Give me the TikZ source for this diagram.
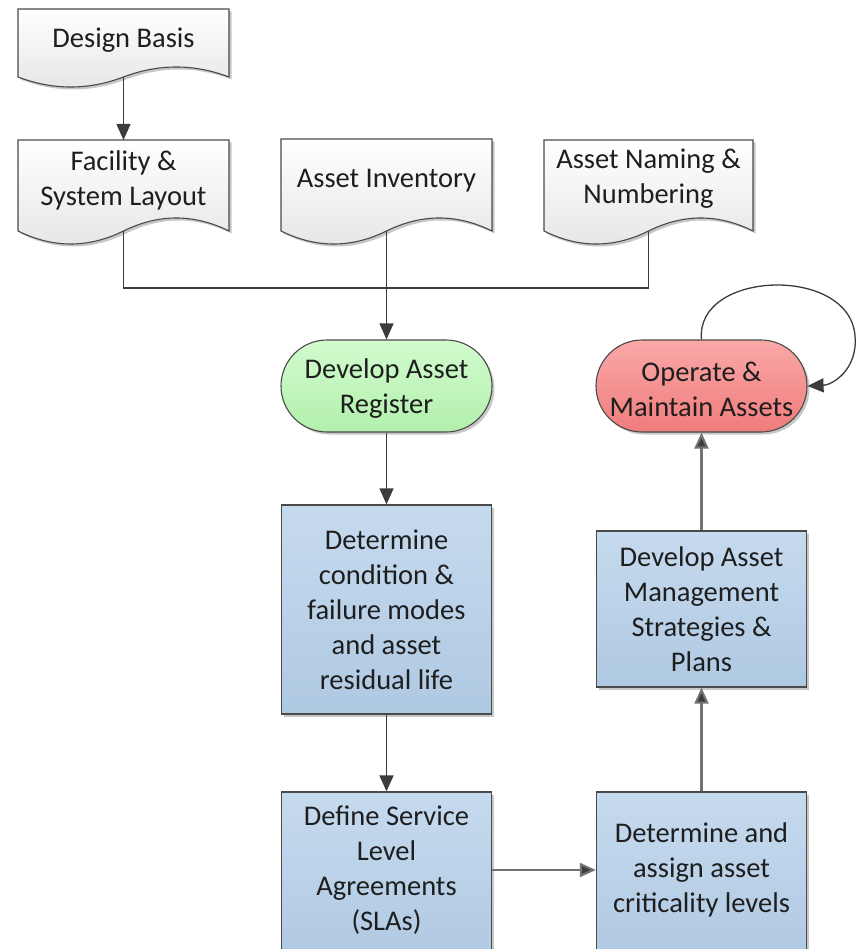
\documentclass[tikz,border=0pt]{standalone}
\usepackage{fontspec}
\setmainfont{Carlito}
\usetikzlibrary{arrows.meta,shapes.misc,shadows,calc}

\definecolor{edge}{HTML}{4A4A4A}
\definecolor{textc}{HTML}{1E1E1E}
\definecolor{docbot}{HTML}{E6E6E6}
\definecolor{blueTop}{HTML}{C6DAEE}
\definecolor{blueBot}{HTML}{AFC9E2}
\definecolor{greenTop}{HTML}{D2FBCE}
\definecolor{greenBot}{HTML}{B2F0AC}
\definecolor{redTop}{HTML}{FAA8A8}
\definecolor{redBot}{HTML}{F07C7C}
\definecolor{darkline}{HTML}{3C3C3C}
\definecolor{greyline}{HTML}{727272}

% document symbol: flat top, wavy bottom
% #1 left, #2 top, #3 right, #4 base line of the wave, #5 wave amplitude
\newcommand\docshape[5]{%
  \pgfmathsetmacro\docW{(#3-#1)/6}%
  \pgfmathsetmacro\docM{(#1+#3)/2}%
  \pgfmathsetmacro\docA{4*#5/3}%
  \path[docsym] (#1,#2) -- (#3,#2) -- (#3,#4)
    .. controls ({#3-\docW},{#4-\docA}) and ({\docM+\docW},{#4-\docA}) .. (\docM,#4)
    .. controls ({\docM-\docW},{#4+\docA}) and ({#1+\docW},{#4+\docA}) .. (#1,#4) -- cycle;%
}

\tikzset{
  every node/.style={font=\fontsize{28.5}{35}\selectfont, text=textc},
  softshadow/.style={drop shadow={shadow xshift=2.5pt, shadow yshift=-2.5pt, opacity=0.22, fill=black}},
  docsym/.style={draw=edge, line width=1.1pt, top color=white, bottom color=docbot, softshadow},
  docanchor/.style={draw=none, inner sep=0pt, outer sep=0pt, minimum width=#1},
  doctext/.style={align=center, inner sep=0pt},
  procbox/.style={rectangle, draw=edge, line width=1.3pt, top color=blueTop, bottom color=blueBot,
    minimum width=210pt, align=center, inner sep=0pt, softshadow},
  terminal/.style={rounded rectangle, draw=edge, line width=1.1pt, minimum width=211pt,
    minimum height=92pt, align=center, inner sep=0pt, softshadow},
  plainline/.style={draw=darkline, line width=1.3pt},
  thinarrow/.style={plainline, -{Triangle[length=16pt,width=14pt]}},
  flowarrow/.style={draw=darkline, line width=1.9pt, -{Triangle[length=16pt,width=14pt]}},
  greyarrow/.style={draw=greyline, line width=2.1pt, -{Triangle[length=16pt,width=14pt,fill=darkline]}},
}

\begin{document}
\begin{tikzpicture}[x=1pt,y=-1pt]
\useasboundingbox (0,0) rectangle (857,949);

% input documents
\docshape{18}{9}{229}{77}{10}
\node[docanchor=211pt, minimum height=68pt] (db) at (123.5,43) {};
\node[doctext] (dbT) at (123.5,40) {Design Basis};

\docshape{18}{140}{229}{231}{13}
\node[docanchor=211pt, minimum height=91pt] (fac) at (123.5,185.5) {};
\node[doctext] (facT) at (123.5,180) {Facility \&\\System Layout};

\docshape{281}{139}{492}{231}{13}
\node[docanchor=211pt, minimum height=92pt] (inv) at (386.5,185) {};
\node[doctext] (invT) at (386.5,180.5) {Asset Inventory};

\docshape{544}{140}{753}{231}{13}
\node[docanchor=209pt, minimum height=91pt] (nam) at (648.5,185.5) {};
\node[doctext] (namT) at (648.5,179) {Asset Naming \&\\Numbering};

% start and end terminals
\node[terminal, top color=greenTop, bottom color=greenBot] (reg) at (386.5,386) {};
\node[doctext] (regT) at (386.5,389) {Develop Asset\\Register};
\node[terminal, top color=redTop, bottom color=redBot] (opr) at (701.5,386) {};
\node[doctext] (oprT) at (701.5,389) {Operate \&\\Maintain Assets};

% process steps
\node[procbox, minimum height=209pt] (cond) at (386.5,609.5)
  {Determine\\condition \&\\failure modes\\and asset\\residual life};
\node[procbox, minimum height=156pt] (ams) at (701.5,609)
  {Develop Asset\\Management\\Strategies \&\\Plans};
\node[procbox, minimum height=170pt] (sla) at (386.5,877) {};
\node[doctext] (slaT) at (386.5,870) {Define Service\\Level\\Agreements\\(SLAs)};
\node[procbox, minimum height=170pt] (asg) at (701.5,877) {};
\node[doctext] (asgT) at (701.5,870) {Determine and\\assign asset\\criticality levels};

% connectors
\coordinate (join) at (386.5,288);
\draw[thinarrow] (db.south) -- (fac.north);
\draw[plainline] (fac.south) |- (join) -| (nam.south);
\draw[thinarrow] (inv.south) -- (reg.north);
\draw[thinarrow] (reg.south) -- (cond.north);
\draw[flowarrow] (cond.south) -- (sla.north);
\draw[greyarrow] (slaT -| sla.east) -- (slaT -| asg.west);
\draw[greyarrow] (asg.north) -- (ams.south);
\draw[greyarrow] (ams.north) -- (opr.south);

% feedback loop on the operating stage
\coordinate (loopR) at (855,336);
\draw[thinarrow] (opr.north) .. controls (695,270) and (850,265) .. (loopR)
  .. controls (858,370) and (832,385) .. (opr.east);
\end{tikzpicture}
\end{document}
